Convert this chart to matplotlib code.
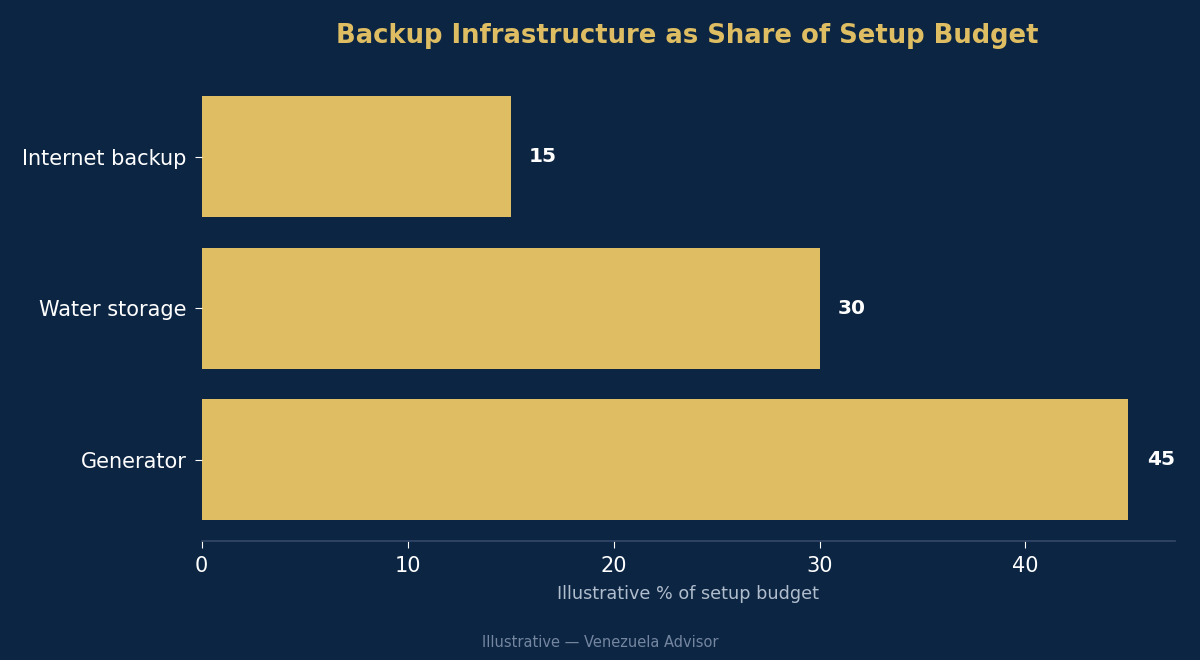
import matplotlib
matplotlib.use('Agg')
import matplotlib.pyplot as plt

# data
categories = ['Generator', 'Water storage', 'Internet backup']
shares = [45, 30, 15]

bg = '#0c2543'
gold = '#dfbd62'

fig = plt.figure(figsize=(12, 6.6), dpi=100, facecolor=bg)
ax = fig.add_axes([0.168, 0.180, 0.811, 0.706])
ax.set_facecolor(bg)

bars = ax.barh(categories, shares, height=0.8, color=gold)

for b, v in zip(bars, shares):
    ax.text(b.get_width() + 0.9, b.get_y() + b.get_height() / 2, str(v),
            va='center', ha='left', color='white', fontsize=14.5, fontweight='bold')

for s in ['top', 'right', 'left']:
    ax.spines[s].set_visible(False)
ax.spines['bottom'].set_color('#34496a')
ax.spines['bottom'].set_linewidth(1.2)

ax.tick_params(axis='both', colors='white', labelsize=15, length=5, pad=6)
ax.set_xlabel('Illustrative % of setup budget', color='#b0bdcd', fontsize=12.7, labelpad=6)

fig.text(0.573, 0.945, 'Backup Infrastructure as Share of Setup Budget',
         ha='center', va='center', color=gold, fontsize=18.6, fontweight='bold')
fig.text(0.5, 0.027, 'Illustrative \u2014 Venezuela Advisor', ha='center', va='center',
         color='#7486a0', fontsize=10.5)

fig.savefig('out.png', dpi=100, facecolor=bg)
